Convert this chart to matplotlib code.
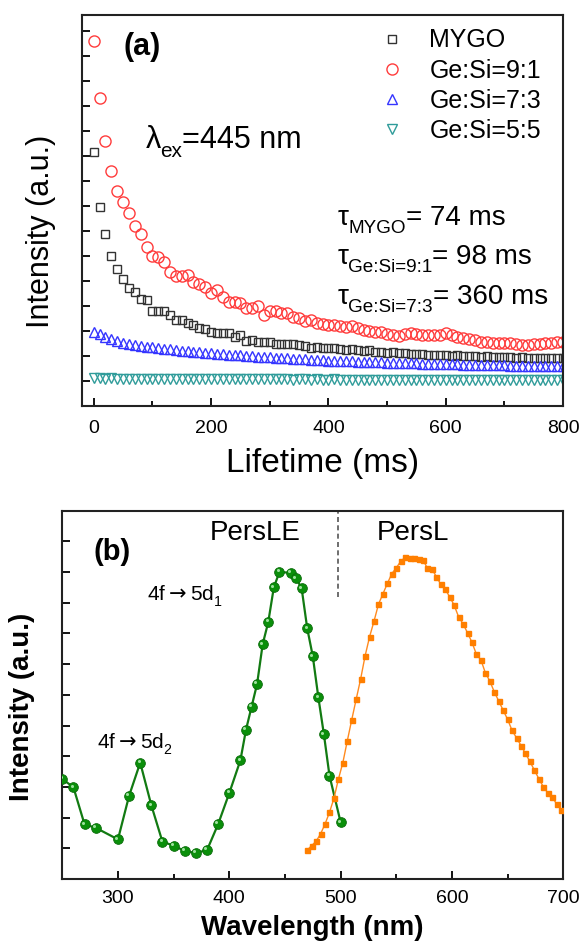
import matplotlib

matplotlib.use("Agg")
import matplotlib.pyplot as plt
from matplotlib.transforms import offset_copy

plt.rcParams["font.family"] = ["Liberation Sans", "DejaVu Sans"]

# ---- panel (a): afterglow decay, sampled every 10 ms ----
LIFETIME_MS = [
    0, 10, 20, 30, 40, 50, 60, 70, 80, 90,
    100, 110, 120, 130, 140, 150, 160, 170, 180, 190,
    200, 210, 220, 230, 240, 250, 260, 270, 280, 290,
    300, 310, 320, 330, 340, 350, 360, 370, 380, 390,
    400, 410, 420, 430, 440, 450, 460, 470, 480, 490,
    500, 510, 520, 530, 540, 550, 560, 570, 580, 590,
    600, 610, 620, 630, 640, 650, 660, 670, 680, 690,
    700, 710, 720, 730, 740, 750, 760, 770, 780, 790,
    800,
]
MYGO = [
    9.17, 6.95, 5.87, 5.01, 4.47, 4.09, 3.71, 3.55, 3.28, 3.24,
    2.80, 2.80, 2.80, 2.64, 2.44, 2.44, 2.31, 2.23, 2.11, 2.08,
    1.97, 1.91, 1.93, 1.93, 1.77, 1.84, 1.61, 1.64, 1.55, 1.55,
    1.55, 1.48, 1.48, 1.48, 1.48, 1.44, 1.40, 1.31, 1.37, 1.33,
    1.30, 1.30, 1.28, 1.25, 1.27, 1.22, 1.20, 1.22, 1.17, 1.15,
    1.13, 1.14, 1.10, 1.12, 1.08, 1.06, 1.08, 1.04, 1.03, 1.05,
    1.02, 1.00, 1.03, 0.99, 1.00, 0.98, 0.97, 0.99, 0.96, 0.95,
    0.97, 0.94, 0.93, 0.95, 0.92, 0.93, 0.90, 0.92, 0.90, 0.91,
    0.90,
]
GESI_91 = [
    13.6, 11.3, 9.6, 8.4, 7.6, 7.15, 6.7, 6.2, 5.87, 5.35,
    5.0, 4.97, 4.77, 4.37, 4.2, 4.2, 4.23, 3.95, 3.87, 3.75,
    3.51, 3.64, 3.37, 3.17, 3.17, 3.1, 2.93, 2.91, 3.0, 2.64,
    2.81, 2.8, 2.71, 2.71, 2.57, 2.53, 2.41, 2.44, 2.3, 2.28,
    2.25, 2.22, 2.2, 2.17, 2.21, 2.1, 2.02, 2.0, 1.97, 1.95,
    1.86, 1.84, 1.8, 1.86, 1.91, 1.88, 1.84, 1.83, 1.84, 1.84,
    1.9, 1.84, 1.77, 1.72, 1.66, 1.62, 1.57, 1.55, 1.53, 1.51,
    1.5, 1.51, 1.48, 1.45, 1.44, 1.46, 1.48, 1.5, 1.51, 1.55,
    1.55,
]
GESI_73 = [
    1.97, 1.88, 1.77, 1.67, 1.61, 1.52, 1.48, 1.44, 1.40, 1.37,
    1.34, 1.31, 1.29, 1.26, 1.23, 1.21, 1.19, 1.17, 1.14, 1.13,
    1.11, 1.09, 1.07, 1.05, 1.04, 1.02, 1.01, 0.99, 0.97, 0.96,
    0.95, 0.93, 0.92, 0.90, 0.89, 0.88, 0.86, 0.85, 0.83, 0.82,
    0.81, 0.80, 0.80, 0.78, 0.78, 0.77, 0.76, 0.76, 0.75, 0.74,
    0.73, 0.73, 0.72, 0.71, 0.71, 0.70, 0.69, 0.69, 0.68, 0.68,
    0.67, 0.66, 0.66, 0.65, 0.65, 0.64, 0.64, 0.63, 0.63, 0.62,
    0.62, 0.61, 0.61, 0.60, 0.60, 0.60, 0.59, 0.59, 0.58, 0.58,
    0.58,
]
GESI_55 = [
    0.10, 0.10, 0.09, 0.10, 0.09, 0.09, 0.09, 0.08, 0.09, 0.08,
    0.08, 0.08, 0.08, 0.07, 0.08, 0.07, 0.08, 0.07, 0.07, 0.07,
    0.07, 0.07, 0.06, 0.07, 0.07, 0.06, 0.07, 0.06, 0.06, 0.07,
    0.06, 0.06, 0.06, 0.06, 0.05, 0.06, 0.06, 0.05, 0.06, 0.05,
    0.05, 0.06, 0.05, 0.05, 0.05, 0.05, 0.05, 0.04, 0.05, 0.05,
    0.05, 0.04, 0.05, 0.05, 0.04, 0.05, 0.04, 0.04, 0.05, 0.04,
    0.04, 0.04, 0.05, 0.04, 0.04, 0.04, 0.04, 0.04, 0.04, 0.04,
    0.04, 0.04, 0.04, 0.03, 0.04, 0.04, 0.04, 0.03, 0.04, 0.04,
    0.04,
]
SERIES_LABELS = ["MYGO", "Ge:Si=9:1", "Ge:Si=7:3", "Ge:Si=5:5"]

# ---- panel (b): excitation (PersLE) and emission (PersL) spectra ----
PERSLE_NM = [250, 260, 270, 280, 300, 310, 320, 330, 340, 350, 360, 370, 380, 390,
             400, 410, 415, 420, 425, 430, 435, 440, 445, 455, 460, 465, 470, 475,
             480, 485, 490, 500]
PERSLE = [3.26, 2.99, 1.78, 1.67, 1.29, 2.71, 3.79, 2.40, 1.21, 1.09, 0.91, 0.85, 0.94, 1.79,
          2.80, 3.87, 4.86, 5.61, 6.36, 7.65, 8.37, 9.50, 10.0, 9.98, 9.80, 9.47, 8.17, 7.26,
          5.92, 4.71, 3.37, 1.85]
PERSL_NM = [470, 474, 478, 482, 486, 490, 494, 498, 502, 506, 510, 514, 518, 522, 526,
            530, 534, 538, 542, 546, 550, 554, 558, 562, 566, 570, 574, 578, 582, 586,
            590, 594, 598, 602, 606, 610, 614, 618, 622, 626, 630, 634, 638, 642, 646,
            650, 654, 658, 662, 666, 670, 674, 678, 682, 686, 690, 694, 698]
PERSL = [0.94, 1.09, 1.23, 1.47, 1.79, 2.17, 2.63, 3.25, 3.79, 4.50, 5.19, 5.86, 6.52, 7.27,
         7.89, 8.40, 8.95, 9.29, 9.63, 9.95, 10.14, 10.35, 10.48, 10.47, 10.45, 10.42, 10.40,
         10.12, 10.10, 9.85, 9.60, 9.44, 9.19, 8.92, 8.54, 8.31, 8.02, 7.71, 7.32, 7.14, 6.72,
         6.45, 6.10, 5.80, 5.50, 5.20, 4.84, 4.60, 4.35, 4.09, 3.83, 3.55, 3.27, 3.01, 2.81,
         2.68, 2.44, 2.25]
DIVIDER_NM = 498

INK = "#222222"


def subscripted(ax, x, y, head, sub, tail="", size=19):
    t1 = ax.text(x, y, head, fontsize=size, ha="left", va="baseline", color="black")
    t2 = ax.annotate(sub, xy=(1, 0), xycoords=t1, xytext=(0, -0.08 * size),
                     textcoords="offset points", fontsize=size * 0.68,
                     ha="left", va="baseline")
    if tail:
        ax.annotate(tail, xy=(1, 0), xycoords=(t2, t1), fontsize=size,
                    ha="left", va="bottom")


def frame(ax):
    for s in ax.spines.values():
        s.set_linewidth(1.5)
        s.set_color(INK)


fig = plt.figure(figsize=(5.81, 9.47), dpi=100)

# ---------------- (a) ----------------
ax = fig.add_axes([0.1411, 0.5713, 0.828, 0.4129])
styles = [
    dict(marker="s", ms=6.0, mec="#333333"),
    dict(marker="o", ms=8.0, mec="#ff3b3b"),
    dict(marker="^", ms=7.0, mec="#3535ff"),
    dict(marker="v", ms=7.0, mec="#2f9c9a"),
]
for vals, lab, st in zip([MYGO, GESI_91, GESI_73, GESI_55], SERIES_LABELS, styles):
    ax.plot(LIFETIME_MS, vals, ls="none", mfc="none", mew=1.0, label=lab, **st)

ax.set_xlim(-20, 800)
ax.set_ylim(-1, 14.64)
ax.set_xticks([0, 200, 400, 600, 800])
ax.set_xticks([100, 300, 500, 700], minor=True)
ax.set_yticks(range(0, 15))
ax.set_yticklabels([])
ax.tick_params(axis="x", which="major", direction="in", length=5.5, width=1.3,
               labelsize=14, pad=10)
ax.tick_params(axis="x", which="minor", direction="in", length=3.5, width=1.3)
ax.tick_params(axis="y", direction="in", length=6, width=1.3)
frame(ax)

ax.set_xlabel("Lifetime (ms)", fontsize=24)
ax.xaxis.label.set_va("center")
ax.xaxis.set_label_coords(0.5, -0.148)
ax.set_ylabel("Intensity (a.u.)", fontsize=22)
ax.yaxis.label.set_va("center")
ax.yaxis.set_label_coords(-0.085, 0.446)

ax.legend(loc="upper left", bbox_to_anchor=(0.618, 0.966), frameon=False,
          fontsize=18, borderpad=0, borderaxespad=0, handlelength=1.0,
          handletextpad=1.0, labelspacing=0.25)

ax.text(82, 13.37, "(a)", fontsize=22, fontweight="bold", ha="center", va="center")
subscripted(ax, 88, 9.32, "λ", "ex", "=445 nm", size=22)
subscripted(ax, 415, 6.24, "τ", "MYGO", "= 74 ms", size=20)
subscripted(ax, 415, 4.68, "τ", "Ge:Si=9:1", "= 98 ms", size=20)
subscripted(ax, 415, 3.08, "τ", "Ge:Si=7:3", "= 360 ms", size=20)

# ---------------- (b) ----------------
bx = fig.add_axes([0.1072, 0.0718, 0.8623, 0.3889])
bx.plot(PERSLE_NM, PERSLE, color="#127a12", lw=1.6, marker="o", ms=7,
        mfc="#0a8f0a", mec="#0b6b0b", mew=0.6, zorder=3)
glint = offset_copy(bx.transData, fig=fig, x=-1.2, y=1.2, units="points")
bx.plot(PERSLE_NM, PERSLE, ls="none", marker="o", ms=2.2, mfc="#b8f0b8",
        mec="none", alpha=0.85, transform=glint, zorder=4)
bx.plot(PERSL_NM, PERSL, color="#ff8a1f", lw=1.0, marker="s", ms=3.6,
        mfc="#ff7f00", mec="#ff7f00", zorder=3)
bx.axvline(DIVIDER_NM, ymin=9.2 / 12, ymax=1, color="#555555", lw=1.2, ls=(0, (3, 2)))

bx.set_xlim(250, 700)
bx.set_ylim(0, 12)
bx.set_xticks([300, 400, 500, 600, 700])
bx.set_xticks([350, 450, 550, 650], minor=True)
bx.set_yticks(range(1, 12))
bx.set_yticklabels([])
bx.tick_params(axis="x", which="major", direction="in", length=5.5, width=1.3,
               labelsize=14, pad=8)
bx.tick_params(axis="x", which="minor", direction="in", length=3.5, width=1.3)
bx.tick_params(axis="y", direction="in", length=6, width=1.3)
frame(bx)

bx.set_xlabel("Wavelength (nm)", fontsize=20, fontweight="bold")
bx.xaxis.label.set_va("center")
bx.xaxis.set_label_coords(0.498, -0.133)
bx.set_ylabel("Intensity (a.u.)", fontsize=20, fontweight="bold")
bx.yaxis.label.set_va("center")
bx.yaxis.set_label_coords(-0.080, 0.467)

bx.text(294.4, 10.66, "(b)", fontsize=21, fontweight="bold", ha="center", va="center")
bx.text(423, 11.27, "PersLE", fontsize=20, ha="center", va="center")
bx.text(565, 11.28, "PersL", fontsize=20, ha="center", va="center")
subscripted(bx, 325.8, 9.09, r"4f$\rightarrow$5d", "1", size=15)
subscripted(bx, 280.9, 4.26, r"4f$\rightarrow$5d", "2", size=15)

fig.savefig("out.png", dpi=100, facecolor="white")
